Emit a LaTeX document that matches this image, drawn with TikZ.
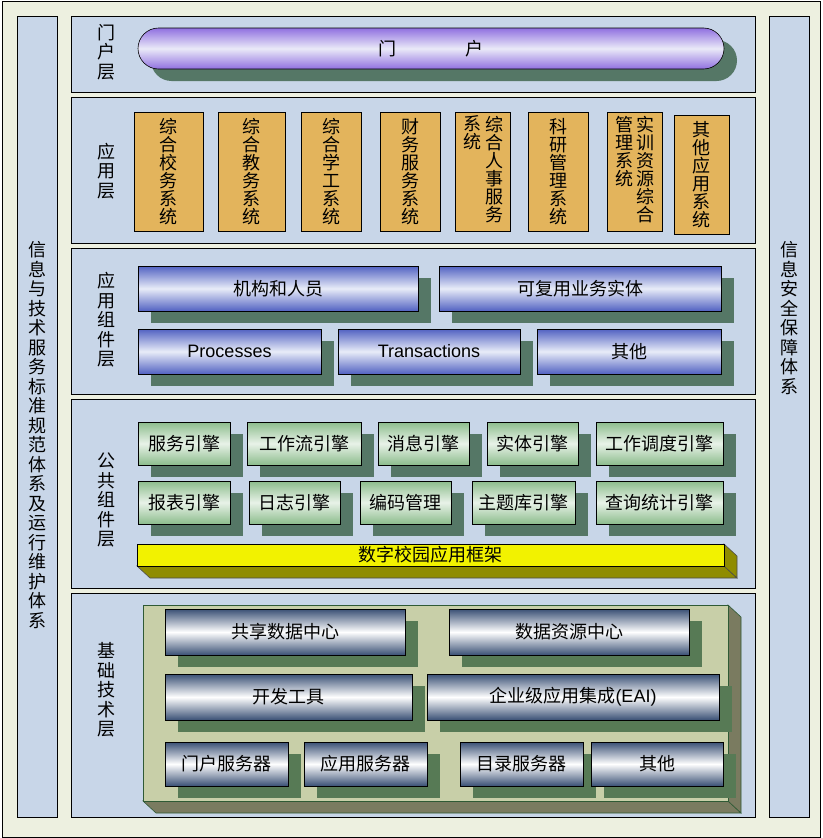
\documentclass[tikz,border=0pt]{standalone}
\usepackage{fontspec}
\setmainfont{Liberation Sans}
\newfontfamily\cjk{Noto Sans CJK SC}
\usepackage{tikz}
\usetikzlibrary{shadows}

\definecolor{paper}{HTML}{EDF0E0}
\definecolor{layerblue}{HTML}{C8D6E8}
\definecolor{appamber}{HTML}{E3B45C}
\definecolor{shadeteal}{HTML}{557766}
\definecolor{shadegreen}{HTML}{577A55}
\definecolor{portaledge}{HTML}{9070E0}
\definecolor{portalmid}{HTML}{EAEAF8}
\definecolor{compedge}{HTML}{5262C2}
\definecolor{compmid}{HTML}{E8ECF8}
\definecolor{engtop}{HTML}{8CBC8C}
\definecolor{engmid}{HTML}{E8F2E8}
\definecolor{steeledge}{HTML}{3A5075}
\definecolor{basepad}{HTML}{C8CFA8}
\definecolor{baseside}{HTML}{7A7B60}
\definecolor{baseline}{HTML}{2F5A35}
\definecolor{bardark}{HTML}{8F8C00}
\definecolor{baryellow}{HTML}{F2F200}

\begin{document}
\begin{tikzpicture}[
	x=1pt, y=-1pt,
	every node/.style={font=\cjk\fontsize{18}{19.5}\selectfont, inner sep=0pt, outer sep=0pt},
	frame/.style={draw, line width=0.8pt, fill=layerblue},
	tag/.style={align=center},
	raised/.style={drop shadow={shadow xshift=13pt, shadow yshift=-12pt, fill=#1, opacity=1}},
	sysbox/.style={draw, line width=0.8pt, fill=appamber, anchor=north west, align=center,
		minimum height=119, font=\cjk\fontsize{18}{18}\selectfont},
	systext/.style={anchor=north, align=center, font=\cjk\fontsize{18}{18}\selectfont},
	portalbar/.style={draw, line width=0.6pt, anchor=north west, rounded corners=20.5pt,
		top color=portaledge, bottom color=portaledge, middle color=portalmid, raised=shadeteal},
	compbox/.style={draw, line width=0.8pt, anchor=north west, minimum height=45,
		top color=compedge, bottom color=compedge, middle color=compmid, raised=shadeteal},
	enginebox/.style={draw, line width=0.8pt, anchor=north west, minimum height=43,
		top color=engtop, bottom color=engtop, middle color=engmid, raised=shadeteal},
	basebox/.style={draw, line width=0.8pt, anchor=north west,
		top color=steeledge, bottom color=steeledge, middle color=white, raised=shadegreen}
	]
	
	\useasboundingbox (0,0) rectangle (822,838);
	\draw[fill=paper, line width=0.8pt] (2,1) rectangle (820,837);
	
	% side columns
	\draw[frame] (17,16) rectangle (57,817);
	\draw[frame] (769,16) rectangle (809,817);
	\node[tag] (norms) at (37,435) {信\\息\\与\\技\\术\\服\\务\\标\\准\\规\\范\\体\\系\\及\\运\\行\\维\\护\\体\\系};
	\node[tag] (security) at (789,318) {信\\息\\安\\全\\保\\障\\体\\系};
	
	% layer frames
	\draw[frame] (71,16) rectangle (755,92);
	\draw[frame] (71,97) rectangle (755,243);
	\draw[frame] (71,248) rectangle (755,394);
	\draw[frame] (71,399) rectangle (755,588);
	\draw[frame] (71,593) rectangle (755,817);
	
	\node[tag] (portal-tag) at (106,52) {门\\户\\层};
	\node[tag] (app-tag) at (106,171) {应\\用\\层};
	\node[tag] (comp-tag) at (106,320) {应\\用\\组\\件\\层};
	\node[tag] (common-tag) at (106,500) {公\\共\\组\\件\\层};
	\node[tag] (base-tag) at (106,690) {基\\础\\技\\术\\层};
	
	% portal layer
	\node[portalbar, minimum width=586, minimum height=41] (portal) at (138,28) {门\hspace{69pt}户};
	
	% application layer
	\node[sysbox, minimum width=69] (sys-admin) at (134,112) {综\\合\\校\\务\\系\\统};
	\node[sysbox, minimum width=67] (sys-teach) at (218,112) {综\\合\\教\\务\\系\\统};
	\node[sysbox, minimum width=60] (sys-student) at (301,112) {综\\合\\学\\工\\系\\统};
	\node[sysbox, minimum width=60] (sys-finance) at (380,112) {财\\务\\服\\务\\系\\统};
	\node[sysbox, minimum width=55] (sys-hr) at (455,112) {};
	\node[systext] (sys-hr-a) at (494,116) {综\\合\\人\\事\\服\\务};
	\node[systext] (sys-hr-b) at (472,116) {系\\统};
	\node[sysbox, minimum width=60] (sys-research) at (528,112) {科\\研\\管\\理\\系\\统};
	\node[sysbox, minimum width=55] (sys-train) at (607,112) {};
	\node[systext] (sys-train-a) at (645,116) {实\\训\\资\\源\\综\\合};
	\node[systext] (sys-train-b) at (624,116) {管\\理\\系\\统};
	\node[sysbox, minimum width=55] (sys-other) at (674,115) {其\\他\\应\\用\\系\\统};
	
	% application component layer
	\node[compbox, minimum width=280] (org) at (138,266) {机构和人员};
	\node[compbox, minimum width=282] (entity) at (439,266) {可复用业务实体};
	\node[compbox, minimum width=183] (proc) at (138,329) {\rmfamily Processes};
	\node[compbox, minimum width=182] (trans) at (338,329) {\rmfamily Transactions};
	\node[compbox, minimum width=184] (comp-other) at (537,329) {其他};
	
	% common component layer
	\node[enginebox, minimum width=92] (eng-service) at (138,422) {服务引擎};
	\node[enginebox, minimum width=114] (eng-flow) at (247,422) {工作流引擎};
	\node[enginebox, minimum width=91] (eng-msg) at (378,422) {消息引擎};
	\node[enginebox, minimum width=91] (eng-entity) at (487,422) {实体引擎};
	\node[enginebox, minimum width=127] (eng-sched) at (596,422) {工作调度引擎};
	\node[enginebox, minimum width=92] (eng-report) at (138,481) {报表引擎};
	\node[enginebox, minimum width=91] (eng-log) at (249,481) {日志引擎};
	\node[enginebox, minimum width=91] (eng-code) at (360,481) {编码管理};
	\node[enginebox, minimum width=103] (eng-topic) at (472,481) {主题库引擎};
	\node[enginebox, minimum width=127] (eng-query) at (596,481) {查询统计引擎};
	
	\filldraw[fill=bardark, draw=black!70, line width=0.6pt]
		(137,566) -- (724,566) -- (737,578) -- (150,578) -- cycle;
	\filldraw[fill=bardark, draw=black!70, line width=0.6pt]
		(724,544) -- (737,556) -- (737,578) -- (724,566) -- cycle;
	\node[draw, line width=0.8pt, fill=baryellow, anchor=north west, minimum width=587, minimum height=22]
		(campus) at (137,544) {数字校园应用框架};
	
	% base technology layer
	\filldraw[fill=baseside, draw=baseline, line width=0.6pt]
		(143,801) -- (728,801) -- (741,813) -- (156,813) -- cycle;
	\filldraw[fill=baseside, draw=baseline, line width=0.6pt]
		(728,605) -- (741,617) -- (741,813) -- (728,801) -- cycle;
	\filldraw[fill=basepad, draw=baseline, line width=0.6pt] (143,605) rectangle (728,801);
	
	\node[basebox, minimum width=240, minimum height=46] (share) at (165,609) {共享数据中心};
	\node[basebox, minimum width=240, minimum height=46] (resource) at (449,609) {数据资源中心};
	\node[basebox, minimum width=247, minimum height=46] (devtool) at (165,674) {开发工具};
	\node[basebox, minimum width=292, minimum height=46] (eai) at (427,674) {企业级应用集成{\rmfamily(EAI)}};
	\node[basebox, minimum width=123, minimum height=44] (srv-portal) at (165,742) {门户服务器};
	\node[basebox, minimum width=123, minimum height=44] (srv-app) at (304,742) {应用服务器};
	\node[basebox, minimum width=123, minimum height=44] (srv-dir) at (460,742) {目录服务器};
	\node[basebox, minimum width=132, minimum height=44] (base-other) at (591,742) {其他};
	
\end{tikzpicture}
\end{document}
